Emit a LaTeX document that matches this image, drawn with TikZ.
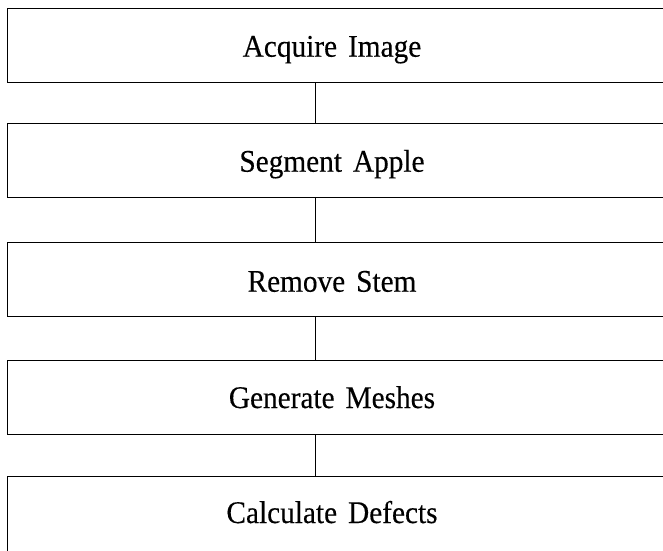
\documentclass[tikz,border=0pt]{standalone}
\usepackage{fontspec}
\newfontfamily\boxfont[FakeStretch=0.93,WordSpace=1.5,FakeBold=0.3]{Liberation Serif}
\begin{document}
\begin{tikzpicture}[x=1pt,y=-1pt,
  stepbox/.style={draw=black,line width=1pt,rectangle,anchor=north west,
    minimum width=670pt,minimum height=74pt,inner sep=0pt},
  steplabel/.style={font=\boxfont\fontsize{31.5}{36}\selectfont,anchor=base,inner sep=0pt},
  link/.style={draw=black,line width=0.8pt}]
  \useasboundingbox (0,0) rectangle (663,550);
  \clip (0,0) rectangle (663,550);
  % process boxes, stacked top to bottom
  \node[stepbox] (b1) at (7,8) {};
  \node[stepbox] (b2) at (7,123) {};
  \node[stepbox] (b3) at (7,242) {};
  \node[stepbox] (b4) at (7,360) {};
  \node[stepbox,minimum height=110pt] (b5) at (7,476) {};
  % labels, placed on their baselines
  \node[steplabel] (t1) at (332,56.7) {Acquire Image};
  \node[steplabel] (t2) at (332,171.7) {Segment Apple};
  \node[steplabel] (t3) at (332,291.7) {Remove Stem};
  \node[steplabel] (t4) at (332,408) {Generate Meshes};
  \node[steplabel] (t5) at (332,523) {Calculate Defects};
  % connectors between consecutive boxes
  \coordinate (x) at (315,0);
  \draw[link] (b1.south -| x) -- (b2.north -| x);
  \draw[link] (b2.south -| x) -- (b3.north -| x);
  \draw[link] (b3.south -| x) -- (b4.north -| x);
  \draw[link] (b4.south -| x) -- (b5.north -| x);
\end{tikzpicture}
\end{document}
